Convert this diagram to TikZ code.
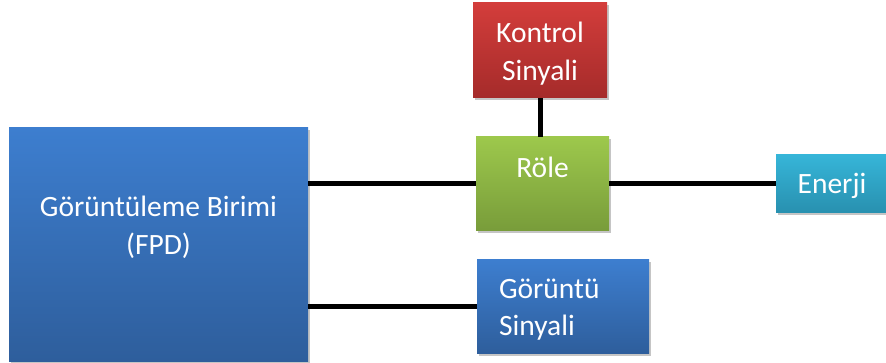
\documentclass[tikz,border=0pt]{standalone}
\usepackage{fontspec}
\setmainfont{Carlito}
\usepackage{tikz}
\usetikzlibrary{shadows}
\tikzset{
BOX/.style={draw=none, inner sep=0pt, text=white, align=center,
  font=\fontsize{29.5}{38}\selectfont,
  drop shadow={shadow xshift=1.5pt, shadow yshift=-2.5pt, fill=black!45, opacity=.5}},
BLUEBOX/.style={BOX, top color=blue1, bottom color=blue2},
LINK/.style={draw=black, line width=5pt, line cap=butt},
}
% first baseline sits #1 above the node centre
\newcommand{\boxtext}[3][c]{\raisebox{#2}[0pt][0pt]{\begin{tabular}[t]{@{}#1@{}}#3\end{tabular}}}
\definecolor{blue1}{HTML}{3D7ECF}
\definecolor{blue2}{HTML}{2E5E9C}
\definecolor{red1}{HTML}{D33D3B}
\definecolor{red2}{HTML}{A52B2A}
\definecolor{green1}{HTML}{9DC84C}
\definecolor{green2}{HTML}{789C3A}
\definecolor{cyan1}{HTML}{36B5D8}
\definecolor{cyan2}{HTML}{2890AF}
\begin{document}
\begin{tikzpicture}[x=1pt, y=-1pt]
	\useasboundingbox (0,0) rectangle (886,363);
	% boxes
	\node[BLUEBOX, minimum width=299pt, minimum height=233pt] (fpd) at (158.5,244.5)
		{\boxtext{27.5pt}{Görüntüleme Birimi\\(FPD)}};
	\node[BOX, top color=red1, bottom color=red2, minimum width=134pt, minimum height=95pt] (kontrol) at (540,50.5)
		{\boxtext{7.5pt}{Kontrol\\Sinyali}};
	\node[BOX, top color=green1, bottom color=green2, minimum width=133pt, minimum height=94pt] (role) at (542.5,184)
		{\boxtext{6pt}{Röle}};
	\node[BOX, top color=cyan1, bottom color=cyan2, minimum width=112pt, minimum height=58pt] (enerji) at (832,184)
		{\boxtext{-10pt}{Enerji}};
	\node[BLUEBOX, minimum width=172pt, minimum height=93pt, text width=128pt, align=left,
		font=\fontsize{29.5}{37}\selectfont] (goruntu) at (563,306.5)
		{\boxtext[l]{8.5pt}{Görüntü\\Sinyali}};
	% connectors
	\path[LINK] (role.west) -- (role.west -| fpd.east);
	\path[LINK] (role.east) -- (enerji.west);
	\path[LINK] (kontrol.south) -- (kontrol.south |- role.north);
	\path[LINK] (goruntu.west) -- (goruntu.west -| fpd.east);
\end{tikzpicture}
\end{document}
